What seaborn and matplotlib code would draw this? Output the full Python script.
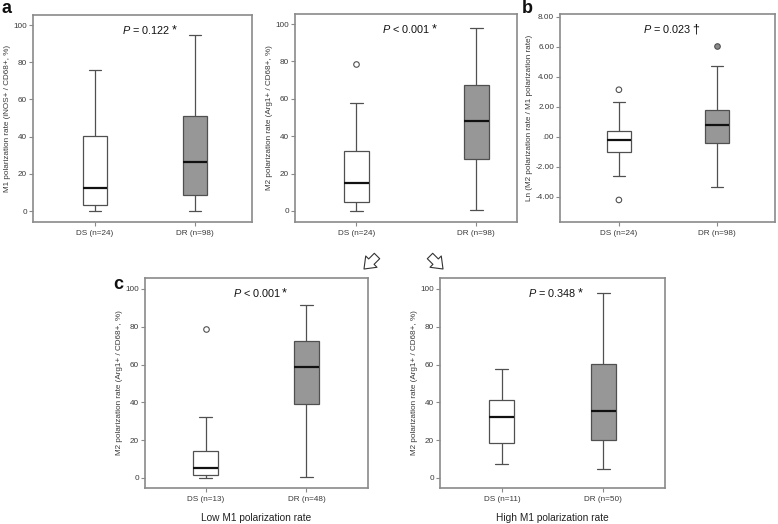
import numpy as np
import pandas as pd
import matplotlib
matplotlib.use("Agg")
import matplotlib.pyplot as plt
from matplotlib.patches import FancyArrowPatch
import seaborn as sns

# ---------------- data ----------------
# each box: [lower whisker, Q1, median, Q3, upper whisker]
groups_all = ["DS (n=24)", "DR (n=98)"]
m1_ds = [0.0, 3.2, 12.2, 40.1, 75.6]
m1_dr = [0.0, 8.4, 26.3, 50.9, 94.6]

m2_ds = [0.0, 4.8, 14.8, 32.0, 57.8]
m2_dr = [0.5, 27.9, 48.1, 67.6, 97.7]
m2_ds_out = [78.9]
m2_dr_out = []

ln_ds = [-2.62, -1.00, -0.24, 0.40, 2.31]
ln_dr = [-3.33, -0.40, 0.76, 1.76, 4.71]
ln_ds_out = [3.13, -4.22]
ln_dr_out = [6.07]

groups_low = ["DS (n=13)", "DR (n=48)"]
low_ds = [0.0, 1.6, 5.3, 14.1, 32.4]
low_dr = [0.7, 39.3, 58.6, 72.5, 91.4]
low_ds_out = [78.7]
low_dr_out = []

groups_high = ["DS (n=11)", "DR (n=50)"]
high_ds = [7.4, 18.7, 32.0, 41.4, 57.9]
high_dr = [4.6, 20.1, 35.7, 60.4, 97.9]

pct_ticks = [0, 20, 40, 60, 80, 100]
ln_ticks = [-4, -2, 0, 2, 4, 6, 8]
ln_tick_labels = ["-4.00", "-2.00", ".00", "2.00", "4.00", "6.00", "8.00"]

p_texts = [r"$\mathit{P}$ = 0.122", r"$\mathit{P}$ < 0.001", r"$\mathit{P}$ = 0.023",
           r"$\mathit{P}$ < 0.001", r"$\mathit{P}$ = 0.348"]
p_marks = ["*", "*", "\u2020", "*", "*"]

ylab_m1 = "M1 polarization rate (iNOS+ / CD68+, %)"
ylab_m2 = "M2 polarization rate (Arg1+ / CD68+, %)"
ylab_ln = "Ln (M2 polarization rate / M1 polarization rate)"
xlab_low = "Low M1 polarization rate"
xlab_high = "High M1 polarization rate"

# ---------------- style ----------------
sns.set_style("white")
plt.rcParams["font.family"] = ["Liberation Sans", "DejaVu Sans"]
plt.rcParams["mathtext.fontset"] = "custom"
plt.rcParams["mathtext.rm"] = "Liberation Sans"
plt.rcParams["mathtext.it"] = "Liberation Sans:italic"
plt.rcParams["mathtext.bf"] = "Liberation Sans:bold"

TEXT = "#3a3a3a"
FRAME = "#8a8a8a"
EDGE = "#505050"
DR_FILL = "#979797"

fig = plt.figure(figsize=(7.78, 5.24), dpi=100, facecolor="white")
W, H = 778, 524


def add_ax(l, r, t, b):
    return fig.add_axes([l / W, 1 - b / H, (r - l) / W, (b - t) / H])


def make_df(groups, ds, dr):
    return pd.DataFrame({"group": [groups[0]] * len(ds) + [groups[1]] * len(dr),
                         "value": list(ds) + list(dr)})


def panel(ax, groups, ds, dr, ds_out, dr_out, width, xlim, ylim, ylabel,
          ptext, pmark, px, xlabel=None):
    df = make_df(groups, ds, dr)
    pal = {groups[0]: "white", groups[1]: DR_FILL}
    sns.boxplot(data=df, x="group", y="value", hue="group", order=groups,
                hue_order=groups, palette=pal, width=width, whis=(0, 100),
                showfliers=False, linecolor=EDGE, linewidth=0.9,
                medianprops={"color": "#111111", "linewidth": 1.6},
                legend=False, ax=ax)
    out = make_df(groups, ds_out, dr_out)
    if len(out):
        sns.stripplot(data=out, x="group", y="value", hue="group", order=groups,
                      hue_order=groups, palette={groups[0]: "white", groups[1]: "#8a8a8a"},
                      jitter=False, size=4, linewidth=0.8, edgecolor=EDGE,
                      legend=False, ax=ax, zorder=5)
    ax.set_xlim(*xlim)
    ax.set_ylim(*ylim)
    ax.set_ylabel(ylabel, fontsize=5.9, color=TEXT, labelpad=2)
    if xlabel:
        ax.set_xlabel(xlabel, fontsize=7.3, color="#222222", labelpad=7)
    else:
        ax.set_xlabel("")
    ax.tick_params(axis="both", which="major", direction="out", length=3,
                   width=0.8, color=FRAME, labelsize=5.9, labelcolor=TEXT, pad=1.2)
    ax.tick_params(axis="x", pad=3)
    ax.yaxis.set_ticks_position("left")
    ax.xaxis.set_ticks_position("bottom")
    for s in ax.spines.values():
        s.set_color(FRAME)
        s.set_linewidth(1.2)
        s.set_visible(True)
    t = ax.text(px, 0.928, ptext, transform=ax.get_xaxis_transform(),
                ha="center", va="center", fontsize=7.8, color="#111111")
    ax.annotate(pmark, xy=(1.0, 1.0), xycoords=t, xytext=(0.6, -0.5),
                textcoords="offset points", ha="left", va="top",
                fontsize=9, color="#111111")


ax1 = add_ax(33, 252, 15, 222)
panel(ax1, groups_all, m1_ds, m1_dr, [], [], 0.24, (-0.615, 1.575), (-5.9, 105.4),
      ylab_m1, p_texts[0], p_marks[0], 0.52)
ax1.set_yticks(pct_ticks)

ax2 = add_ax(295, 517, 14, 222)
panel(ax2, groups_all, m2_ds, m2_dr, m2_ds_out, m2_dr_out, 0.21, (-0.51, 1.34),
      (-5.9, 105.4), ylab_m2, p_texts[1], p_marks[1], 0.42)
ax2.set_yticks(pct_ticks)

ax3 = add_ax(560, 775, 14, 222)
panel(ax3, groups_all, ln_ds, ln_dr, ln_ds_out, ln_dr_out, 0.25, (-0.60, 1.59),
      (-5.69, 8.18), ylab_ln, p_texts[2], p_marks[2], 0.49)
ax3.set_yticks(ln_ticks)
ax3.set_yticklabels(ln_tick_labels)

ax4 = add_ax(145, 368, 278, 488)
panel(ax4, groups_low, low_ds, low_dr, low_ds_out, low_dr_out, 0.25, (-0.60, 1.61),
      (-5.3, 105.8), ylab_m2, p_texts[3], p_marks[3], 0.51, xlabel=xlab_low)
ax4.set_yticks(pct_ticks)

ax5 = add_ax(440, 665, 278, 488)
panel(ax5, groups_high, high_ds, high_dr, [], [], 0.25, (-0.61, 1.61),
      (-5.3, 105.8), ylab_m2, p_texts[4], p_marks[4], 0.50, xlabel=xlab_high)
ax5.set_yticks(pct_ticks)

# panel letters
for letter, x, y in [("a", 1, 13), ("b", 522, 13), ("c", 113, 289)]:
    fig.text(x / W, 1 - y / H, letter, fontsize=13, fontweight="bold",
             color="#111111", ha="left", va="baseline")

# hollow arrows
for (x0, y0), (x1, y1) in [((377, 256), (364, 269)), ((430, 256), (443, 269))]:
    arr = FancyArrowPatch((x0 / W, 1 - y0 / H), (x1 / W, 1 - y1 / H),
                          transform=fig.transFigure,
                          arrowstyle="simple,head_length=0.75,head_width=1.15,tail_width=0.55",
                          mutation_scale=10, facecolor="white", edgecolor="#333333",
                          linewidth=0.8, shrinkA=0, shrinkB=0)
    fig.patches.append(arr)

fig.savefig("out.png", dpi=100, facecolor="white")
